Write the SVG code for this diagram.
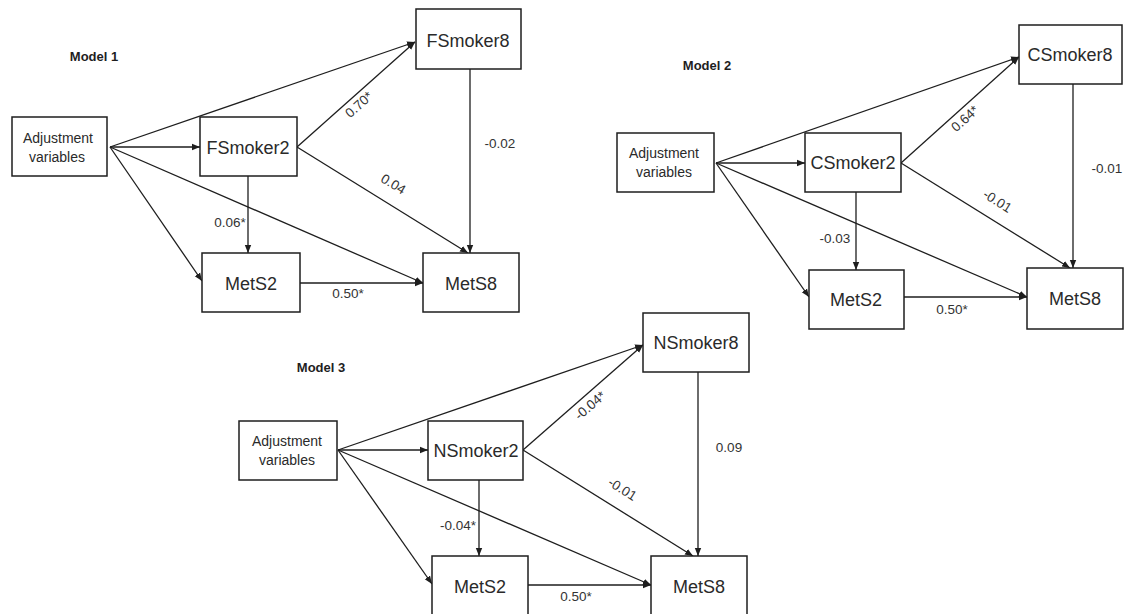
<svg xmlns="http://www.w3.org/2000/svg" width="1126" height="614" viewBox="0 0 1126 614">
  <style>
    .box { fill: #ffffff; stroke: #1e1e1e; stroke-width: 1.5; }
    .node { font-family: "Liberation Sans", Arial, sans-serif; font-size: 18px; fill: #2a2a2a; text-anchor: middle; }
    .adj { font-family: "Liberation Sans", Arial, sans-serif; font-size: 14px; fill: #2a2a2a; text-anchor: middle; }
    .edge { stroke: #1e1e1e; stroke-width: 1.3; fill: none; marker-end: url(#arrow); }
    .coef { font-family: "Liberation Sans", Arial, sans-serif; font-size: 13.5px; fill: #333333; text-anchor: middle; }
    .title { font-family: "Liberation Sans", Arial, sans-serif; font-size: 13px; font-weight: bold; fill: #1e1e1e; text-anchor: middle; }
  </style>
  <defs>
    <marker id="arrow" markerUnits="userSpaceOnUse" markerWidth="9" markerHeight="8" refX="8" refY="4" orient="auto">
      <path d="M0,0.8 L8,4 L0,7.2 Z" fill="#1e1e1e"/>
    </marker>
  </defs>
  <rect width="1126" height="614" fill="#ffffff"/>

  <!-- panel titles -->
  <g id="titles">
    <text class="title" x="94" y="61">Model 1</text>
    <text class="title" x="707" y="70">Model 2</text>
    <text class="title" x="321" y="372">Model 3</text>
  </g>

  <!-- all paths -->
  <g id="connectors">
    <!-- Model 1 -->
    <line class="edge" x1="110" y1="147" x2="415" y2="42"/>
    <line class="edge" x1="110" y1="147" x2="200" y2="147"/>
    <line class="edge" x1="110" y1="147" x2="202" y2="281"/>
    <line class="edge" x1="110" y1="147" x2="423" y2="283"/>
    <line class="edge" x1="297" y1="147" x2="415" y2="42"/>
    <line class="edge" x1="297" y1="147" x2="468" y2="253"/>
    <line class="edge" x1="248" y1="176" x2="248" y2="253"/>
    <line class="edge" x1="470" y1="69" x2="470" y2="253"/>
    <line class="edge" x1="300" y1="283" x2="423" y2="283"/>
    <!-- Model 2 -->
    <line class="edge" x1="716" y1="163" x2="1019" y2="57"/>
    <line class="edge" x1="716" y1="163" x2="805" y2="163"/>
    <line class="edge" x1="716" y1="163" x2="809" y2="297"/>
    <line class="edge" x1="716" y1="163" x2="1027" y2="297"/>
    <line class="edge" x1="901" y1="163" x2="1019" y2="57"/>
    <line class="edge" x1="901" y1="163" x2="1070" y2="268"/>
    <line class="edge" x1="856" y1="192" x2="856" y2="270"/>
    <line class="edge" x1="1073" y1="84" x2="1073" y2="268"/>
    <line class="edge" x1="904" y1="297" x2="1027" y2="297"/>
    <!-- Model 3 -->
    <line class="edge" x1="338" y1="450" x2="643" y2="345"/>
    <line class="edge" x1="338" y1="450" x2="428" y2="450"/>
    <line class="edge" x1="338" y1="450" x2="432" y2="584"/>
    <line class="edge" x1="338" y1="450" x2="651" y2="585"/>
    <line class="edge" x1="523" y1="450" x2="643" y2="345"/>
    <line class="edge" x1="523" y1="450" x2="693" y2="556"/>
    <line class="edge" x1="479" y1="480" x2="479" y2="556"/>
    <line class="edge" x1="698" y1="372" x2="698" y2="556"/>
    <line class="edge" x1="528" y1="585" x2="651" y2="585"/>
  </g>

  <!-- path coefficients -->
  <g id="coefficients">
    <text class="coef" transform="translate(362,108) rotate(-42)">0.70*</text>
    <text class="coef" transform="translate(391,188) rotate(31)">0.04</text>
    <text class="coef" x="500" y="148">-0.02</text>
    <text class="coef" x="230" y="227">0.06*</text>
    <text class="coef" x="348" y="298">0.50*</text>

    <text class="coef" transform="translate(968,122) rotate(-42)">0.64*</text>
    <text class="coef" transform="translate(995,205) rotate(32)">-0.01</text>
    <text class="coef" x="1107" y="173">-0.01</text>
    <text class="coef" x="835" y="243">-0.03</text>
    <text class="coef" x="952" y="314">0.50*</text>

    <text class="coef" transform="translate(593,409) rotate(-41)">-0.04*</text>
    <text class="coef" transform="translate(620,493) rotate(32)">-0.01</text>
    <text class="coef" x="729" y="452">0.09</text>
    <text class="coef" x="458" y="530">-0.04*</text>
    <text class="coef" x="576" y="601">0.50*</text>
  </g>

  <!-- Model 1 nodes -->
  <g id="m1-adjust">
    <rect class="box" x="12" y="117" width="95" height="59"/>
    <text class="adj" x="58" y="143">Adjustment</text>
    <text class="adj" x="57" y="162">variables</text>
  </g>
  <g id="m1-fsmoker2">
    <rect class="box" x="200" y="117" width="97" height="59"/>
    <text class="node" x="248" y="154">FSmoker2</text>
  </g>
  <g id="m1-fsmoker8">
    <rect class="box" x="416" y="9" width="105" height="60"/>
    <text class="node" x="468" y="47">FSmoker8</text>
  </g>
  <g id="m1-mets2">
    <rect class="box" x="202" y="253" width="98" height="59"/>
    <text class="node" x="251" y="290">MetS2</text>
  </g>
  <g id="m1-mets8">
    <rect class="box" x="423" y="253" width="96" height="59"/>
    <text class="node" x="471" y="290">MetS8</text>
  </g>

  <!-- Model 2 nodes -->
  <g id="m2-adjust">
    <rect class="box" x="617" y="133" width="97" height="59"/>
    <text class="adj" x="664" y="158">Adjustment</text>
    <text class="adj" x="664" y="177">variables</text>
  </g>
  <g id="m2-csmoker2">
    <rect class="box" x="805" y="133" width="96" height="59"/>
    <text class="node" x="853" y="169">CSmoker2</text>
  </g>
  <g id="m2-csmoker8">
    <rect class="box" x="1019" y="25" width="103" height="59"/>
    <text class="node" x="1070" y="61">CSmoker8</text>
  </g>
  <g id="m2-mets2">
    <rect class="box" x="809" y="270" width="95" height="59"/>
    <text class="node" x="856" y="306">MetS2</text>
  </g>
  <g id="m2-mets8">
    <rect class="box" x="1027" y="268" width="96" height="61"/>
    <text class="node" x="1075" y="305">MetS8</text>
  </g>

  <!-- Model 3 nodes -->
  <g id="m3-adjust">
    <rect class="box" x="239" y="421" width="98" height="59"/>
    <text class="adj" x="287" y="446">Adjustment</text>
    <text class="adj" x="287" y="465">variables</text>
  </g>
  <g id="m3-nsmoker2">
    <rect class="box" x="428" y="421" width="95" height="59"/>
    <text class="node" x="476" y="457">NSmoker2</text>
  </g>
  <g id="m3-nsmoker8">
    <rect class="box" x="643" y="313" width="106" height="59"/>
    <text class="node" x="696" y="349">NSmoker8</text>
  </g>
  <g id="m3-mets2">
    <rect class="box" x="432" y="556" width="96" height="60"/>
    <text class="node" x="480" y="593">MetS2</text>
  </g>
  <g id="m3-mets8">
    <rect class="box" x="651" y="556" width="96" height="60"/>
    <text class="node" x="699" y="593">MetS8</text>
  </g>
</svg>
